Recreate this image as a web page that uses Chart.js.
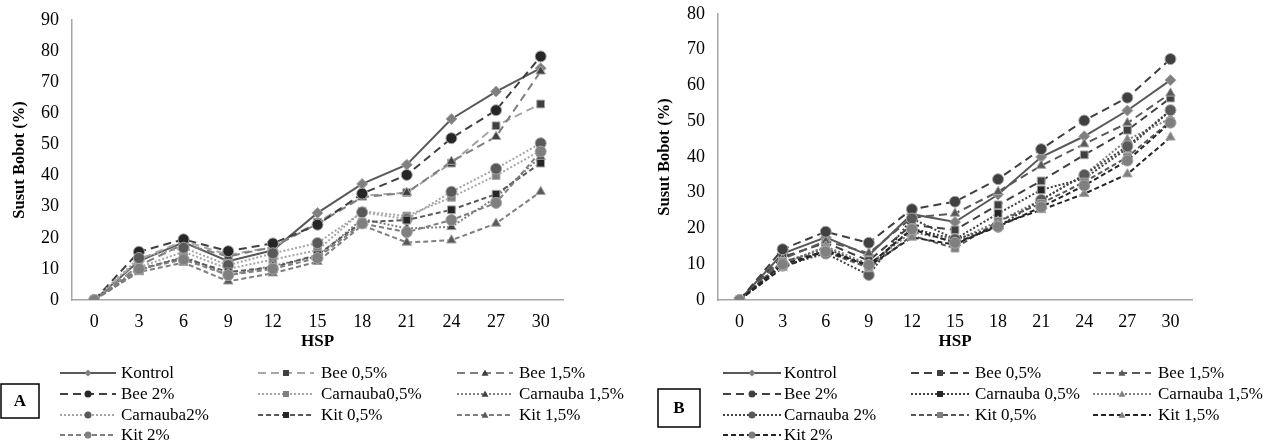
<!DOCTYPE html>
<html>
<head>
<meta charset="utf-8">
<script src="https://cdn.jsdelivr.net/npm/chart.js@4.4.0/dist/chart.umd.min.js"></script>
<style>
    html, body { margin: 0; padding: 0; background: #fff; }
    #wrap { position: relative; width: 1276px; height: 441px; }
    .panel { position: absolute; top: 0; width: 638px; height: 441px; }
</style>
</head>
<body>
<div id="wrap">
    <div class="panel" style="left:0"><canvas id="chartA" width="638" height="441"></canvas></div>
    <div class="panel" style="left:638px"><canvas id="chartB" width="638" height="441"></canvas></div>
</div>
<script>
var hsp = ['0', '3', '6', '9', '12', '15', '18', '21', '24', '27', '30'];

var labelsA = ['Kontrol', 'Bee 0,5%', 'Bee 1,5%', 'Bee 2%', 'Carnauba0,5%', 'Carnauba 1,5%', 'Carnauba2%', 'Kit 0,5%', 'Kit 1,5%', 'Kit 2%'];
var labelsB = ['Kontrol', 'Bee 0,5%', 'Bee 1,5%', 'Bee 2%', 'Carnauba 0,5%', 'Carnauba 1,5%', 'Carnauba 2%', 'Kit 0,5%', 'Kit 1,5%', 'Kit 2%'];

// Panel A values (%)
var kontrolA = [0, 12.5, 18.5, 12.5, 16, 28, 37.3, 43.5, 58.2, 67, 74.5];
var bee05A   = [0, 13, 19, 14.5, 17, 25, 33.5, 34.5, 44, 56, 63];
var bee15A   = [0, 11, 18, 14, 17, 24.5, 33, 34.5, 44.5, 52.5, 73.5];
var bee2A    = [0, 15.5, 19.5, 15.7, 18.2, 24.2, 34.2, 40.2, 52, 61, 78.3];
var car05A   = [0, 10.5, 15.5, 10, 13, 16, 28.5, 27, 33, 40, 48];
var car15A   = [0, 9.5, 14, 8, 11, 14, 26, 23, 23.5, 33, 46];
var car2A    = [0, 13.5, 16.8, 11.2, 15, 18.3, 28.2, 26, 34.8, 42.2, 50.4];
var kit05A   = [0, 10, 13.5, 9, 10.5, 14.5, 25, 25.7, 29, 34, 44];
var kit15A   = [0, 9, 12, 6, 8.6, 12.3, 24, 18.5, 19.2, 24.6, 34.8];
var kit2A    = [0, 10, 13, 8, 10, 13.5, 24.6, 21.8, 25.7, 31.2, 47.7];

// Panel B values (%)
var kontrolB = [0, 13, 17.5, 12.5, 24, 21.8, 29.5, 40, 45.8, 53, 61.5];
var bee05B   = [0, 12, 16, 11, 21, 19.6, 26.6, 33.3, 40.6, 47.5, 56.5];
var bee15B   = [0, 11.5, 16.5, 13.1, 23, 24.2, 30.3, 37.6, 43.6, 49.5, 57.8];
var bee2B    = [0, 14.2, 19.1, 16, 25.4, 27.5, 33.8, 42.2, 50.2, 56.6, 67.4];
var car05B   = [0, 10.5, 14.5, 9.5, 20, 17, 24.2, 30.8, 34, 42.4, 53];
var car15B   = [0, 10, 15, 10, 19, 16.5, 22, 28, 35, 44.8, 50.8];
var car2B    = [0, 9.6, 13, 7, 22.8, 17, 20.5, 28, 35, 43, 53.1];
var kit05B   = [0, 10.8, 13.5, 9, 18, 14.5, 22, 27, 33, 40, 50];
var kit15B   = [0, 9, 14, 9.5, 17.5, 15.5, 21, 25.2, 29.7, 35.2, 45.5];
var kit2B    = [0, 10, 13.5, 9.8, 19.8, 16, 20.5, 26, 32, 39, 49.6];

var serif = '"Liberation Serif", "Times New Roman", serif';
var SOLID = [], LONG = [8, 5], DOT = [2, 2], SHORT = [5, 3];

var stylesA = [
    { line: '#595959', dash: SOLID, point: 'rectRot', fill: '#7f7f7f' },
    { line: '#a6a6a6', dash: LONG, point: 'rect', fill: '#404040' },
    { line: '#7f7f7f', dash: LONG, point: 'triangle', fill: '#404040' },
    { line: '#404040', dash: LONG, point: 'circle', fill: '#262626' },
    { line: '#a6a6a6', dash: DOT, point: 'rect', fill: '#7f7f7f' },
    { line: '#7f7f7f', dash: DOT, point: 'triangle', fill: '#404040' },
    { line: '#a6a6a6', dash: DOT, point: 'circle', fill: '#595959' },
    { line: '#595959', dash: SHORT, point: 'rect', fill: '#262626' },
    { line: '#7f7f7f', dash: SHORT, point: 'triangle', fill: '#595959' },
    { line: '#7f7f7f', dash: SHORT, point: 'circle', fill: '#7f7f7f' }
];

var stylesB = [
    { line: '#595959', dash: SOLID, point: 'rectRot', fill: '#7f7f7f' },
    { line: '#404040', dash: LONG, point: 'rect', fill: '#404040' },
    { line: '#595959', dash: LONG, point: 'triangle', fill: '#595959' },
    { line: '#404040', dash: LONG, point: 'circle', fill: '#404040' },
    { line: '#404040', dash: DOT, point: 'rect', fill: '#262626' },
    { line: '#7f7f7f', dash: DOT, point: 'triangle', fill: '#7f7f7f' },
    { line: '#404040', dash: DOT, point: 'circle', fill: '#595959' },
    { line: '#595959', dash: SHORT, point: 'rect', fill: '#7f7f7f' },
    { line: '#262626', dash: SHORT, point: 'triangle', fill: '#7f7f7f' },
    { line: '#262626', dash: SHORT, point: 'circle', fill: '#7f7f7f' }
];

function drawMarker(ctx, style, x, y, r) {
    ctx.beginPath();
    if (style === 'circle') {
        ctx.arc(x, y, r, 0, Math.PI * 2);
    } else if (style === 'rect') {
        ctx.rect(x - r * 0.85, y - r * 0.85, r * 1.7, r * 1.7);
    } else if (style === 'triangle') {
        ctx.moveTo(x, y - r);
        ctx.lineTo(x + r, y + r * 0.75);
        ctx.lineTo(x - r, y + r * 0.75);
        ctx.closePath();
    } else {
        ctx.moveTo(x, y - r);
        ctx.lineTo(x + r, y);
        ctx.lineTo(x, y + r);
        ctx.lineTo(x - r, y);
        ctx.closePath();
    }
    ctx.fill();
}

// Legend in 3 columns + boxed panel letter
var gridLegend = {
    id: 'gridLegend',
    afterDraw: function (chart, args, opts) {
        var ctx = chart.ctx;
        ctx.save();
        chart.data.datasets.forEach(function (ds, i) {
            var col = i % 3, row = Math.floor(i / 3);
            var x = opts.sampleX[col], y = opts.rows[row];
            ctx.strokeStyle = ds.borderColor;
            ctx.lineWidth = 2;
            ctx.setLineDash(ds.borderDash);
            ctx.beginPath();
            ctx.moveTo(x, y);
            ctx.lineTo(x + opts.sampleW, y);
            ctx.stroke();
            ctx.setLineDash([]);
            ctx.fillStyle = ds.pointBackgroundColor;
            drawMarker(ctx, ds.pointStyle, x + opts.sampleW / 2, y, 3.5);
            ctx.fillStyle = '#000';
            ctx.font = '17px ' + serif;
            ctx.textBaseline = 'middle';
            ctx.textAlign = 'left';
            ctx.fillText(ds.label, opts.textX[col], y + 1);
        });
        var b = opts.box;
        ctx.strokeStyle = '#000';
        ctx.lineWidth = 1.5;
        ctx.strokeRect(b.x, b.y, b.w, b.h);
        ctx.font = 'bold 17px ' + serif;
        ctx.textAlign = 'center';
        ctx.fillText(opts.letter, b.x + b.w / 2, b.y + b.h / 2 + 1);
        ctx.restore();
    }
};

function drawPanel(id, labels, series, styles, yMax, lay, legendOpts) {
    var datasets = series.map(function (values, i) {
        var s = styles[i];
        return {
            label: labels[i],
            data: values,
            borderColor: s.line,
            borderWidth: 2,
            borderDash: s.dash,
            pointStyle: s.point,
            pointRadius: 5.5,
            pointBackgroundColor: s.fill,
            pointBorderColor: '#a6a6a6',
            pointBorderWidth: 1,
            tension: 0,
            fill: false,
            order: 10 - i
        };
    });

    return new Chart(document.getElementById(id), {
        type: 'line',
        data: { labels: hsp, datasets: datasets },
        options: {
            responsive: false,
            animation: false,
            layout: { padding: lay.padding },
            plugins: {
                legend: { display: false },
                tooltip: { enabled: false },
                gridLegend: legendOpts
            },
            scales: {
                x: {
                    offset: true,
                    grid: { display: false, drawTicks: false },
                    border: { display: true, color: '#a6a6a6', width: 1.5 },
                    ticks: { color: '#000', font: { family: serif, size: 18 }, padding: 11, maxRotation: 0, autoSkip: false },
                    title: { display: true, text: 'HSP', color: '#000', font: { family: serif, size: 17, weight: 'bold' }, padding: { top: 0, bottom: 0 } },
                    afterFit: function (scale) { scale.height = 52; }
                },
                y: {
                    min: 0,
                    max: yMax,
                    grid: { display: false, drawTicks: false },
                    border: { display: true, color: '#a6a6a6', width: 1.5 },
                    ticks: { stepSize: 10, color: '#000', font: { family: serif, size: 18 }, padding: 13 },
                    title: { display: true, text: 'Susut Bobot (%)', color: '#000', font: { family: serif, size: 16.5, weight: 'bold' }, padding: { top: 4, bottom: 0 } },
                    afterFit: function (scale) {
                        scale.width = lay.yWidth;
                        scale.paddingTop = 4;
                        scale.paddingBottom = 4;
                    }
                }
            }
        },
        plugins: [gridLegend]
    });
}

drawPanel('chartA', labelsA,
    [kontrolA, bee05A, bee15A, bee2A, car05A, car15A, car2A, kit05A, kit15A, kit2A],
    stylesA, 90,
    { padding: { top: 20, right: 75, bottom: 89, left: 6 }, yWidth: 66 },
    {
        sampleX: [60, 258, 457], sampleW: 56, textX: [121, 321, 519],
        rows: [373, 394, 415, 435],
        box: { x: 1, y: 384, w: 38, h: 34 }, letter: 'A'
    });

drawPanel('chartB', labelsB,
    [kontrolB, bee05B, bee15B, bee2B, car05B, car15B, car2B, kit05B, kit15B, kit2B],
    stylesB, 80,
    { padding: { top: 14, right: 84, bottom: 89, left: 13 }, yWidth: 67 },
    {
        sampleX: [85, 273, 455], sampleW: 58, textX: [146, 337, 520],
        rows: [373, 394, 415, 435],
        box: { x: 20, y: 389, w: 42, h: 38 }, letter: 'B'
    });
</script>
</body>
</html>
